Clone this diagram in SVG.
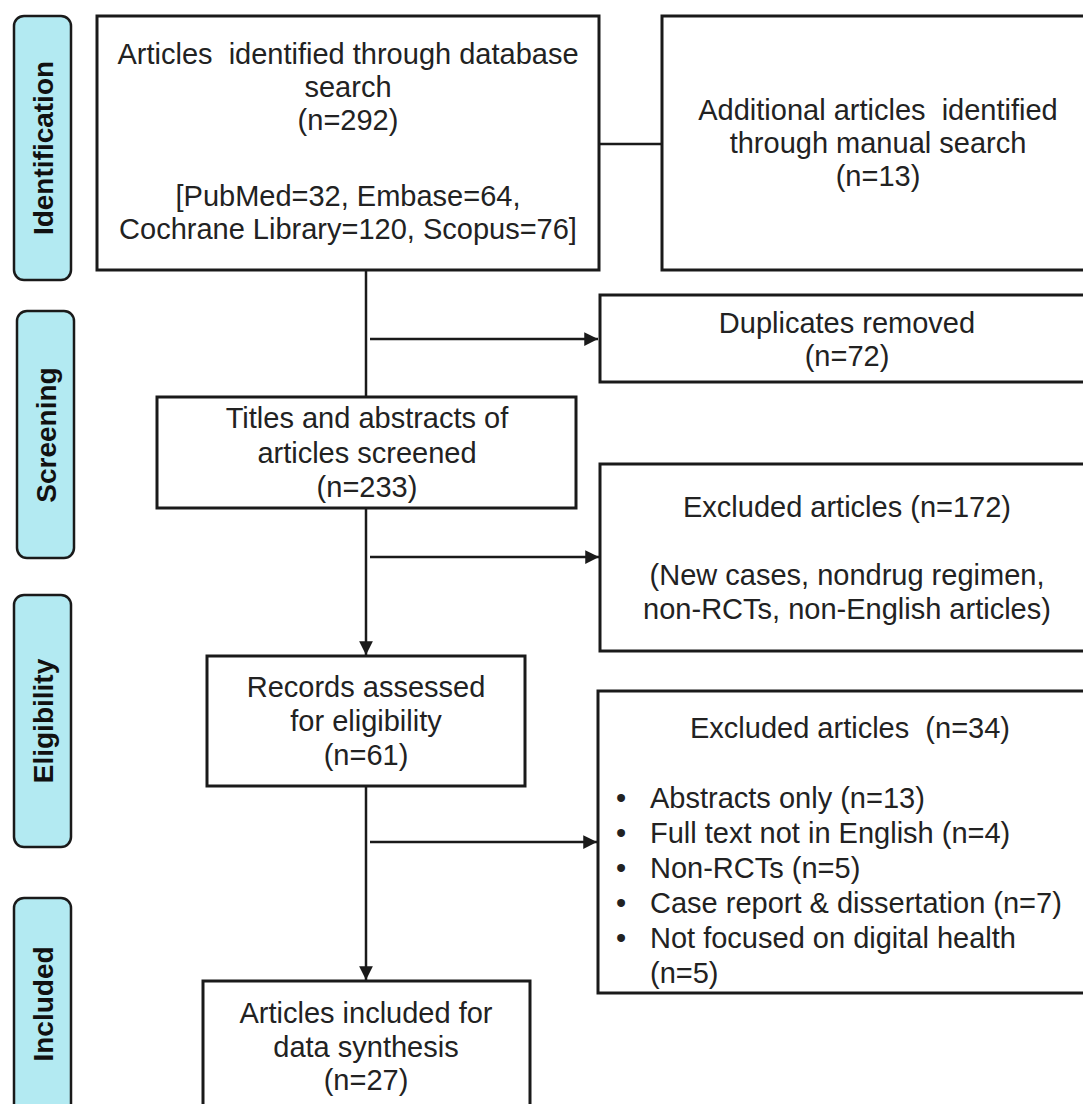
<svg xmlns="http://www.w3.org/2000/svg" width="1083" height="1104" viewBox="0 0 1083 1104">
<defs>
<style>
.box{fill:#fff;stroke:#1a1a1a;stroke-width:3}
.pill{fill:#b3eaf2;stroke:#1a1a1a;stroke-width:2.5}
.t{font-family:"Liberation Sans",Arial,sans-serif;font-size:29px;fill:#222;text-anchor:middle}
.tl{font-family:"Liberation Sans",Arial,sans-serif;font-size:29px;fill:#222}
.lab{font-family:"Liberation Sans",Arial,sans-serif;font-size:28px;font-weight:bold;fill:#111;text-anchor:middle}
.c{fill:none;stroke:#1a1a1a;stroke-width:2.5}
</style>
<marker id="ah" viewBox="0 0 10 10" refX="10" refY="5" markerWidth="5.5" markerHeight="5.5" orient="auto" markerUnits="strokeWidth">
<path d="M0,0 L10,5 L0,10 z" fill="#1a1a1a"/>
</marker>
</defs>
<rect width="1083" height="1104" fill="#fff"/>

<g id="stage-identification">
<rect class="pill" x="14" y="16" width="57" height="264" rx="10"/>
<text class="lab" transform="translate(52.5,148) rotate(-90)">Identification</text>
</g>
<g id="stage-screening">
<rect class="pill" x="17" y="311" width="57" height="247" rx="10"/>
<text class="lab" transform="translate(55.5,435) rotate(-90)">Screening</text>
</g>
<g id="stage-eligibility">
<rect class="pill" x="14" y="595" width="57" height="252" rx="10"/>
<text class="lab" transform="translate(52.5,721) rotate(-90)">Eligibility</text>
</g>
<g id="stage-included">
<rect class="pill" x="14" y="898" width="57" height="220" rx="10"/>
<text class="lab" transform="translate(52.5,1004) rotate(-90)">Included</text>
</g>

<g id="connectors">
<line class="c" x1="599" y1="144" x2="662" y2="144"/>
<line class="c" x1="366" y1="270" x2="366" y2="397"/>
<line class="c" x1="370" y1="339" x2="598" y2="339" marker-end="url(#ah)"/>
<line class="c" x1="366" y1="508" x2="366" y2="655" marker-end="url(#ah)"/>
<line class="c" x1="370" y1="557" x2="599" y2="557" marker-end="url(#ah)"/>
<line class="c" x1="366" y1="786" x2="366" y2="980" marker-end="url(#ah)"/>
<line class="c" x1="370" y1="842" x2="597" y2="842" marker-end="url(#ah)"/>
</g>

<g id="node-database">
<rect class="box" x="97" y="16" width="502" height="254"/>
<text class="t" x="348" y="64" xml:space="preserve">Articles  identified through database</text>
<text class="t" x="348" y="97">search</text>
<text class="t" x="348" y="130">(n=292)</text>
<text class="t" x="348" y="206">[PubMed=32, Embase=64,</text>
<text class="t" x="348" y="239">Cochrane Library=120, Scopus=76]</text>
</g>

<g id="node-manual">
<rect class="box" x="662" y="16" width="432" height="254"/>
<text class="t" x="878" y="120" xml:space="preserve">Additional articles  identified</text>
<text class="t" x="878" y="153">through manual search</text>
<text class="t" x="878" y="186">(n=13)</text>
</g>

<g id="node-duplicates">
<rect class="box" x="600" y="295" width="495" height="87"/>
<text class="t" x="847" y="333">Duplicates removed</text>
<text class="t" x="847" y="366">(n=72)</text>
</g>

<g id="node-screened">
<rect class="box" x="157" y="397" width="419" height="111"/>
<text class="t" x="367" y="428">Titles and abstracts of</text>
<text class="t" x="367" y="463">articles screened</text>
<text class="t" x="367" y="497">(n=233)</text>
</g>

<g id="node-excluded-172">
<rect class="box" x="600" y="464" width="495" height="187"/>
<text class="t" x="847" y="517">Excluded articles (n=172)</text>
<text class="t" x="847" y="585">(New cases, nondrug regimen,</text>
<text class="t" x="847" y="619">non-RCTs, non-English articles)</text>
</g>

<g id="node-eligibility">
<rect class="box" x="207" y="656" width="318" height="130"/>
<text class="t" x="366" y="697">Records assessed</text>
<text class="t" x="366" y="731">for eligibility</text>
<text class="t" x="366" y="765">(n=61)</text>
</g>

<g id="node-excluded-34">
<rect class="box" x="598" y="691" width="497" height="302"/>
<text class="t" x="850" y="738" xml:space="preserve">Excluded articles  (n=34)</text>
<text class="tl" x="616" y="808">•</text><text class="tl" x="650" y="808">Abstracts only (n=13)</text>
<text class="tl" x="616" y="843">•</text><text class="tl" x="650" y="843">Full text not in English (n=4)</text>
<text class="tl" x="616" y="878">•</text><text class="tl" x="650" y="878">Non-RCTs (n=5)</text>
<text class="tl" x="616" y="913">•</text><text class="tl" x="650" y="913">Case report &amp; dissertation (n=7)</text>
<text class="tl" x="616" y="948">•</text><text class="tl" x="650" y="948">Not focused on digital health</text>
<text class="tl" x="650" y="983">(n=5)</text>
</g>

<g id="node-included">
<rect class="box" x="203" y="981" width="327" height="140"/>
<text class="t" x="366" y="1023">Articles included for</text>
<text class="t" x="366" y="1057">data synthesis</text>
<text class="t" x="366" y="1090">(n=27)</text>
</g>
</svg>
